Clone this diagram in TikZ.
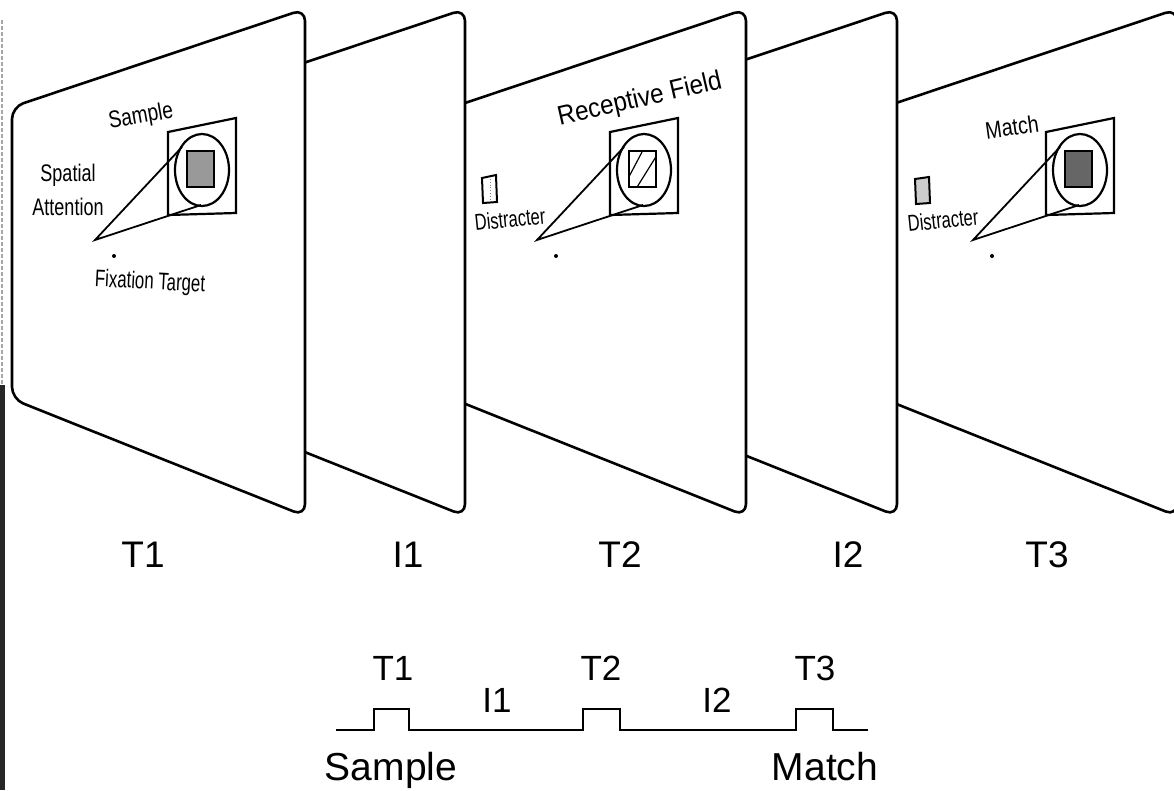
\documentclass[tikz,border=0pt]{standalone}
\usepackage{graphicx}
\usepackage{fontspec}
\setmainfont{Liberation Sans}
\newcommand\panelshape[1]{\draw[panel] ({#1-293},107) -- ({#1},9) -- ({#1},516) -- ({#1-293},399) -- cycle;}
\newcommand\targetbase{%
  \draw[fig] (168,132) -- (236,118) -- (236,213) -- (168,215) -- cycle;
  \draw[fig] (202,170) ellipse [x radius=27, y radius=36];
  \draw[cone] (182,147) -- (95,240) -- (201,205);
  \fill (114,256) circle [radius=2];
}
\newcommand\narrow[2]{\scalebox{#1}[1]{#2}}
\begin{document}
\begin{tikzpicture}[x=1pt,y=-1pt,
  panel/.style={draw=black, line width=2.6pt, fill=white, rounded corners=12pt, line join=round},
  fig/.style={draw=black, line width=2.2pt},
  cone/.style={draw=black, line width=1.8pt, line join=miter},
  inner/.style={draw=black, line width=2.6pt},
  lab/.style={inner sep=0pt, anchor=base, font=\fontsize{37}{40}\selectfont},
  tlab/.style={inner sep=0pt, anchor=base, font=\fontsize{35}{38}\selectfont},
  big/.style={inner sep=0pt, anchor=base, font=\fontsize{39}{42}\selectfont},
  small/.style={inner sep=0pt, font=\fontsize{24}{26}\selectfont},
  wave/.style={draw=black, line width=1.8pt, line join=miter},
]
\useasboundingbox (0,0) rectangle (1174,790);
\clip (0,0) rectangle (1174,790);
\fill[white] (0,0) rectangle (1174,790);

% scan edge at the left border
\draw[line width=2pt, gray!70, dash pattern=on 4pt off 2pt] (1.5,20) -- (1.5,385);
\draw[line width=5pt, black!85] (2.5,385) -- (2.5,790);

% ---------- T3 ----------
\panelshape{1177}
\begin{scope}[xshift=878pt]
  \targetbase
  \draw[inner, fill=black!60] (187,151) rectangle (214,187);
\end{scope}
\draw[line width=2pt, fill=black!20] (915,179) -- (929,177) -- (930,203) -- (916,204) -- cycle;
\node[small, font=\fontsize{23}{25}\selectfont, rotate=6] (dis3) at (943,220) {\narrow{.72}{Distracter}};
\node[small, rotate=8] (match) at (1012,127) {\narrow{.82}{Match}};

% ---------- I2 ----------
\panelshape{897}

% ---------- T2 ----------
\panelshape{746}
\begin{scope}[xshift=442pt]
  \targetbase
  \begin{scope}
    \clip (187,151) rectangle (214,187);
    \draw[line width=1.2pt] (180,190) -- (200,152);
    \draw[line width=1.2pt] (192,192) -- (215,155);
  \end{scope}
  \draw[inner] (187,151) rectangle (214,187);
\end{scope}
\draw[line width=2pt] (482,178) -- (496,175) -- (497,202) -- (483,203) -- cycle;
\draw[line width=0.8pt, gray, dotted] (490,179) -- (490,200);
\node[small, font=\fontsize{23}{25}\selectfont, rotate=6] (dis2) at (510,219) {\narrow{.72}{Distracter}};
\node[small, font=\fontsize{27}{29}\selectfont, rotate=13] (rf) at (640,100) {\narrow{.9}{Receptive Field}};

% ---------- I1 ----------
\panelshape{465}

% ---------- T1 ----------
\panelshape{305}
\targetbase
\draw[inner, fill=black!40] (187,151) rectangle (214,187);
\node[small, rotate=10] (sample1) at (141,117) {\narrow{.8}{Sample}};
\node[small] (spatial) at (68,175) {\narrow{.75}{Spatial}};
\node[small] (attention) at (68,207) {\narrow{.75}{Attention}};
\node[small, rotate=-3] (fix) at (150,283) {\narrow{.7}{Fixation Target}};

% ---------- labels under the panels ----------
\node[lab] (lT1) at (143,567) {T1};
\node[lab] (lI1) at (408,567) {I1};
\node[lab] (lT2) at (620,567) {T2};
\node[lab] (lI2) at (848,567) {I2};
\node[lab] (lT3) at (1047,567) {T3};

% ---------- time line ----------
\draw[wave] (336,730) -- (374,730) -- (374,709) -- (409,709) -- (409,730)
  -- (583,730) -- (583,709) -- (620,709) -- (620,730)
  -- (796,730) -- (796,709) -- (833,709) -- (833,730) -- (868,730);
\node[tlab] (wT1) at (393,680) {T1};
\node[tlab] (wI1) at (497,712) {I1};
\node[tlab] (wT2) at (601,680) {T2};
\node[tlab] (wI2) at (717,712) {I2};
\node[tlab] (wT3) at (815,680) {T3};
\node[big] (wS) at (391,780) {Sample};
\node[big] (wM) at (825,780) {Match};
\end{tikzpicture}
\end{document}
